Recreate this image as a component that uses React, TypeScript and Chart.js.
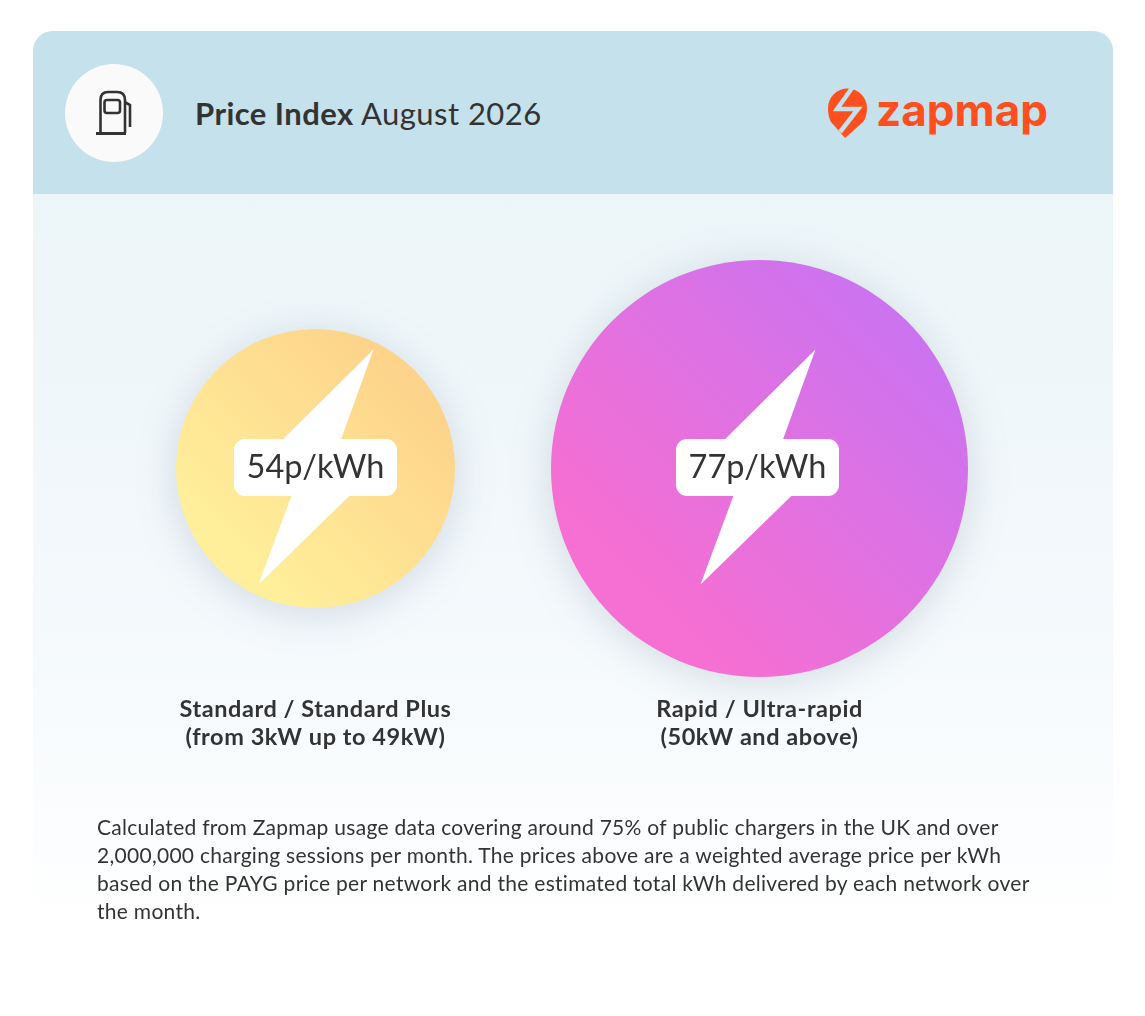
import React, { useEffect, useRef } from "react";
import { Chart, registerables } from "chart.js";

Chart.register(...registerables);

const categoryLabels = [
  ["Standard / Standard Plus", "(from 3kW up to 49kW)"],
  ["Rapid / Ultra-rapid", "(50kW and above)"],
];
const pricesPence = [54, 77];
const priceUnit = "p/kWh";
const titleBold = "Price Index";
const titleRest = " August 2026";
const brandName = "zapmap";
const noteLines = [
  "Calculated from Zapmap usage data covering around 75% of public chargers in the UK and over",
  "2,000,000 charging sessions per month. The prices above are a weighted average price per kWh",
  "based on the PAYG price per network and the estimated total kWh delivered by each network over",
  "the month.",
];
const gradientStops = [
  ["#FFEE9A", "#FDD28A"],
  ["#F66FD2", "#CB73F0"],
];

const FONT = "Lato, 'Noto Sans', sans-serif";
const INK = "#333333";
const radiusFor = (price: number) => 3 * price - 22.5;
const BOLT = [[58, -119], [15, 0], [62, 0], [-57, 116], [-14, 0], [-62, 0]];

const bubbleDecor = {
  id: "bubbleDecor",
  beforeDraw(chart: any) {
    chart.ctx.letterSpacing = "0.55px";
  },
  beforeDatasetsDraw(chart: any) {
    const c = chart.ctx;
    c.save();
    c.shadowColor = "rgba(70,100,125,0.2)";
    c.shadowBlur = 40;
    c.shadowOffsetY = 6;
  },
  afterDatasetsDraw(chart: any) {
    const c = chart.ctx;
    c.restore();
    chart.getDatasetMeta(0).data.forEach((pt: any, i: number) => {
      const p = pt.getProps(["x", "y"], true);
      const x = p.x - (i ? 2 : 0);
      const y = p.y;
      c.save();
      c.letterSpacing = "0px";
      c.fillStyle = "#ffffff";
      c.beginPath();
      BOLT.forEach(([dx, dy], k) => (k ? c.lineTo(x + dx, y + dy) : c.moveTo(x + dx, y + dy)));
      c.closePath();
      c.fill();
      c.beginPath();
      c.roundRect(x - 81.5, y - 29.5, 163, 57, 11);
      c.fill();
      c.fillStyle = INK;
      c.font = `400 32.5px ${FONT}`;
      c.textAlign = "center";
      c.textBaseline = "middle";
      c.fillText(`${pricesPence[i]}${priceUnit}`, x, y - 1);
      c.restore();
    });
  },
};

export default function App() {
  const ref = useRef<HTMLCanvasElement>(null);
  useEffect(() => {
    const chart = new Chart(ref.current as HTMLCanvasElement, {
      type: "bubble",
      data: {
        labels: categoryLabels as any,
        datasets: [
          {
            label: "Price per kWh",
            data: pricesPence.map((p, i) => ({ x: i, y: 0, r: radiusFor(p) })),
            borderWidth: 0,
            clip: false,
            backgroundColor: (ctx: any) => {
              const i = ctx.dataIndex ?? 0;
              const area = ctx.chart;
              const p = pricesPence[i];
              const r = radiusFor(p);
              const cx = area.scales?.x?.getPixelForValue(i);
              const cy = area.scales?.y?.getPixelForValue(0);
              if (!Number.isFinite(cx) || !Number.isFinite(cy)) return gradientStops[i][0];
              const d = r * 0.7071;
              const g = area.ctx.createLinearGradient(cx - d, cy + d, cx + d, cy - d);
              g.addColorStop(0.1, gradientStops[i][0]);
              g.addColorStop(1, gradientStops[i][1]);
              return g;
            },
          },
        ],
      },
      options: {
        animation: false,
        responsive: false,
        events: [],
        layout: { autoPadding: false, padding: { left: 93.5, right: 163.5, top: 247, bottom: 236 } },
        plugins: { legend: { display: false }, tooltip: { enabled: false }, title: { display: false } },
        scales: {
          x: {
            type: "category",
            offset: true,
            grid: { display: false, drawTicks: false },
            border: { display: false },
            afterFit: (s: any) => {
              s.height = 90;
            },
            ticks: {
              color: INK,
              padding: 5,
              maxRotation: 0,
              autoSkip: false,
              font: { family: FONT, size: 23.5, weight: "bold", lineHeight: 1.2 },
            },
          },
          y: { type: "linear", display: false, min: -1, max: 1 },
        },
      },
      plugins: [bubbleDecor],
    } as any);
    return () => chart.destroy();
  }, []);

  return (
    <div style={{ position: "absolute", left: 0, top: 0, width: 1145, height: 1016, background: "#fff", fontFamily: FONT, color: INK, overflow: "hidden" }}>
      <div style={{ position: "absolute", left: 33, top: 31, width: 1080, height: 940, borderRadius: 20, overflow: "hidden", background: "linear-gradient(#ecf5f8 17.5%, #f4f9fc 62%, #ffffff 96%)" }}>
        <div style={{ height: 163, background: "#C5E1EC" }} />
      </div>
      <div style={{ position: "absolute", left: 65, top: 64, width: 98, height: 98, borderRadius: "50%", background: "#FAFAFA" }} />
      <svg style={{ position: "absolute", left: 90, top: 85 }} width="50" height="55" viewBox="0 0 50 55" fill="none" stroke="#333" strokeWidth="2.6">
        <path d="M10.5 48V15Q10.5 7 18 7H27Q35 7 35 15V48" />
        <rect x="14.5" y="15" width="15.5" height="13" rx="2.5" />
        <path d="M6 48.5H36" strokeWidth="3" />
        <path d="M35.5 17.5L40 20V42" />
      </svg>
      <div style={{ position: "absolute", left: 195, top: 93, fontSize: 31, letterSpacing: 0.45, lineHeight: "40px", whiteSpace: "pre" }}>
        <b>{titleBold}</b>{titleRest}
      </div>
      <svg style={{ position: "absolute", left: 820, top: 80 }} width="60" height="64" viewBox="0 0 60 64">
        <path d="M25 58L11 42Q8 37 8 28A19.5 19.5 0 0 1 47 28Q47 37 43 42Z" fill="#FF4F1F" />
        <path d="M32 8L17 29H38L20 52" fill="none" stroke="#C5E1EC" strokeWidth="4.5" />
      </svg>
      <div style={{ position: "absolute", left: 876, top: 80, fontFamily: "Inter, Lato, sans-serif", fontSize: 44, fontWeight: 700, lineHeight: "60px", color: "#FF4F1F", whiteSpace: "pre" }}>{brandName}</div>
      <canvas ref={ref} width={1145} height={1016} style={{ position: "absolute", left: 0, top: 0, width: 1145, height: 1016 }} />
      <div style={{ position: "absolute", left: 97, top: 813, fontSize: 21, letterSpacing: 0.28, lineHeight: "28px", whiteSpace: "pre" }}>
        {noteLines.map((l) => (
          <div key={l}>{l}</div>
        ))}
      </div>
    </div>
  );
}
